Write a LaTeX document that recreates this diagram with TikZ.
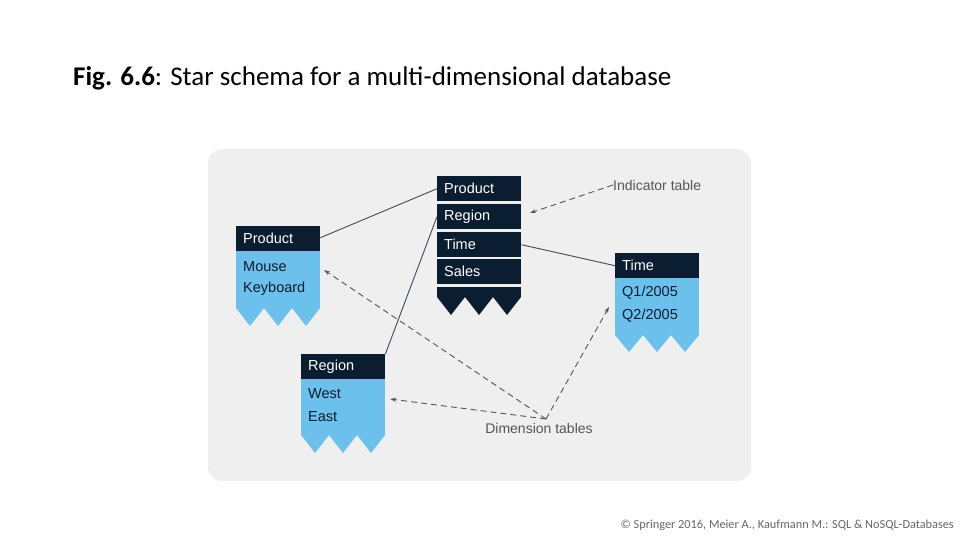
\documentclass[tikz,border=0pt]{standalone}
\usepackage{fontspec}
\setmainfont{Carlito}
\newfontfamily\diagfont{Liberation Sans}
\usetikzlibrary{arrows.meta}
\definecolor{navy}{HTML}{0B1D30}
\definecolor{skyblue}{HTML}{6CC0EC}
\definecolor{panel}{HTML}{EFEFEF}
\definecolor{note}{HTML}{555555}
\newcommand{\teeth}[6]{% colour, left, top, right, valley, tip
  \pgfmathsetmacro{\tw}{(#4-#2)/6}
  \fill[#1] (#2,#3) rectangle (#4,#5);
  \foreach \i in {0,1,2}
    \fill[#1] ({#2+2*\i*\tw},#5) -- ({#2+(2*\i+1)*\tw},#6) -- ({#2+(2*\i+2)*\tw},#5) -- cycle;
}
\begin{document}
\begin{tikzpicture}[x=1pt,y=-1pt,
    head/.style={fill=navy,text=white,anchor=north west,inner ysep=0pt,inner xsep=7pt,
      minimum height=25pt,minimum width=84pt,text width=70pt,align=left,
      font=\diagfont\fontsize{14.5}{16}\selectfont},
    cell/.style={text=navy,anchor=west,inner sep=0pt,font=\diagfont\fontsize{14.5}{16}\selectfont},
    lbl/.style={text=note,inner sep=0pt,font=\diagfont\fontsize{14}{16}\selectfont},
    link/.style={draw=navy!80,line width=0.9pt},
    hint/.style={draw=note,line width=0.9pt,dash pattern=on 6pt off 4pt,-{Stealth[length=6pt,width=4pt]}}]
  \useasboundingbox (0,0) rectangle (960,540);
  \fill[panel,rounded corners=14pt] (208,149) rectangle (751,481);
  % title and source
  \node (title) [anchor=west,inner sep=0pt,font=\fontsize{27}{32}\selectfont] at (73,78)
    {\textbf{Fig. 6.6}: Star schema for a multi-dimensional database};
  \node (src) [anchor=east,inner sep=0pt,text=black!60,font=\fontsize{12.3}{14}\selectfont] at (954,525)
    {© Springer 2016, Meier A., Kaufmann M.: SQL \& NoSQL-Databases};
  % indicator table
  \foreach \nm/\txt/\y in {fprod/Product/176,freg/Region/204,ftime/Time/232,fsales/Sales/259}
    \node (\nm) [head] at (437,\y) {\txt};
  \teeth{navy}{437}{287}{521}{297}{315}
  % dimension tables
  \teeth{skyblue}{236}{251}{320}{308}{326}
  \node (dprod) [head] at (236,226) {Product};
  \node (mouse) [cell] at (243,267) {Mouse};
  \node (keyb) [cell] at (243,289) {Keyboard};
  \teeth{skyblue}{301}{379}{385}{435}{453}
  \node (dreg) [head] at (301,354) {Region};
  \node (west) [cell] at (308,394) {West};
  \node (east) [cell] at (308,417) {East};
  \teeth{skyblue}{615}{278}{699}{335}{352}
  \node (dtime) [head] at (615,253) {Time};
  \node (q1) [cell] at (622,293) {Q1/2005};
  \node (q2) [cell] at (622,316) {Q2/2005};
  % joins
  \draw[link] (dprod.east) ++(0,-1) -- (fprod.west);
  \draw[link] (dreg.north east) -- (freg.west);
  \draw[link] (ftime.east) -- (dtime.west);
  % notes
  \node (indlbl) [lbl,anchor=west] at (613,185) {Indicator table};
  \node (dimlbl) [lbl] at (539,428) {Dimension tables};
  \coordinate (dimtip) at (546,419);
  \draw[hint] (indlbl.west) -- (530,213);
  \draw[hint] (dimtip) -- (324,270);
  \draw[hint] (dimtip) -- (390,399);
  \draw[hint] (dimtip) -- (609,307);
\end{tikzpicture}
\end{document}
